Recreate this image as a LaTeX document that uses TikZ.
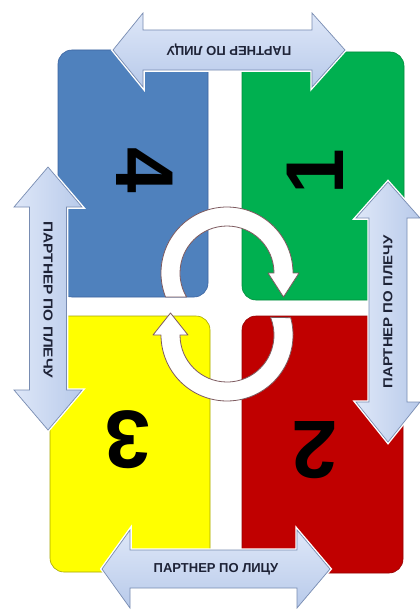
\documentclass[tikz,border=0pt]{standalone}
\usepackage{fontspec}
\setmainfont{Liberation Sans}
\usepackage{graphicx}
\usetikzlibrary{calc}
\definecolor{qblue}{RGB}{79,129,189}
\definecolor{qblueD}{RGB}{60,100,160}
\definecolor{qgreen}{RGB}{0,176,80}
\definecolor{qgreenD}{RGB}{0,140,60}
\definecolor{qyellow}{RGB}{255,255,0}
\definecolor{qyellowD}{RGB}{165,165,0}
\definecolor{qred}{RGB}{192,0,0}
\definecolor{qredD}{RGB}{150,0,0}
\definecolor{arrA}{RGB}{222,231,248}
\definecolor{arrB}{RGB}{184,202,234}
\definecolor{arrLine}{RGB}{120,140,178}
\definecolor{arcLine}{RGB}{125,90,95}
\definecolor{txt}{RGB}{30,35,55}
\begin{document}
\begin{tikzpicture}[x=1pt,y=-1pt,
  quad/.style={rounded corners=14pt, line width=0.6pt},
  arrowshape/.style={draw=arrLine, line width=0.7pt, line join=miter,
    preaction={draw=white, line width=3.5pt}},
  rotarc/.style={fill=white, draw=arcLine, line width=0.8pt, line join=round},
  lbl/.style={font=\fontsize{13}{13}\selectfont\bfseries, text=txt, inner sep=0pt},
  digit/.style={font=\fontsize{82}{82}\selectfont\bfseries, text=black, inner sep=0pt}]

\fill[white] (0,0) rectangle (420,610);
\useasboundingbox (0,0) rectangle (420,610);

% quadrants
\filldraw[quad, fill=qblue, draw=qblueD] (58,50) rectangle (208,297);
\filldraw[quad, fill=qgreen, draw=qgreenD] (242,52) rectangle (404,300);
\filldraw[quad, fill=qyellow, draw=qyellowD] (50,316) rectangle (210,572);
\filldraw[quad, fill=qred, draw=qredD] (242,316) rectangle (403,573);

% rotation arrows
\coordinate (cu) at (227,273);
\coordinate (cl) at (227,335);
\filldraw[rotarc] ($(cu)+(158.7:66)$) arc[start angle=158.7, end angle=360, radius=66]
  -- (299,273) -- (283.5,297) -- (268,273) -- (274,273)
  arc[start angle=360, end angle=149.3, radius=47] -- cycle;
\filldraw[rotarc] ($(cl)+(344.8:66)$) arc[start angle=344.8, end angle=540, radius=66]
  -- (153,335) -- (170.5,313) -- (188,335) -- (180,335)
  arc[start angle=540, end angle=337.9, radius=47] -- cycle;

% partner arrows
\shadedraw[arrowshape, top color=arrA, bottom color=arrB]
  (113,50) -- (143,13) -- (143,30) -- (312,30) -- (312,13) -- (345,50)
  -- (312,87) -- (312,70) -- (143,70) -- (143,87) -- cycle;
\shadedraw[arrowshape, top color=arrA, bottom color=arrB]
  (102,569) -- (130,530) -- (130,550) -- (297,550) -- (297,530) -- (330,569)
  -- (297,608) -- (297,588) -- (130,588) -- (130,608) -- cycle;
\shadedraw[arrowshape, left color=arrA, right color=arrB]
  (48,167) -- (82,207) -- (66.5,207) -- (66.5,390) -- (82,390) -- (48,430)
  -- (14,390) -- (29.5,390) -- (29.5,207) -- (14,207) -- cycle;
\shadedraw[arrowshape, left color=arrA, right color=arrB]
  (388,182) -- (420,218) -- (407,218) -- (407,402) -- (420,402) -- (388,442)
  -- (356,402) -- (369,402) -- (369,218) -- (356,218) -- cycle;

% labels
\node[lbl, rotate=180] (ttop) at (229,50) {ПАРТНЕР ПО ЛИЦУ};
\node[lbl] (tbot) at (216,569) {ПАРТНЕР ПО ЛИЦУ};
\node[lbl, rotate=-90] (tleft) at (48,300) {\scalebox{1.18}[1]{ПАРТНЕР ПО ПЛЕЧУ}};
\node[lbl, rotate=90] (tright) at (388,312) {\scalebox{1.15}[1]{ПАРТНЕР ПО ПЛЕЧУ}};

% digits
\node[digit, rotate=-90] (n4) at (145,170) {4};
\node[digit, rotate=90] (n1) at (315,172) {1};
\node[digit, rotate=180] (n3) at (128,440) {3};
\node[digit, rotate=180] (n2) at (315,450) {2};
\end{tikzpicture}
\end{document}
